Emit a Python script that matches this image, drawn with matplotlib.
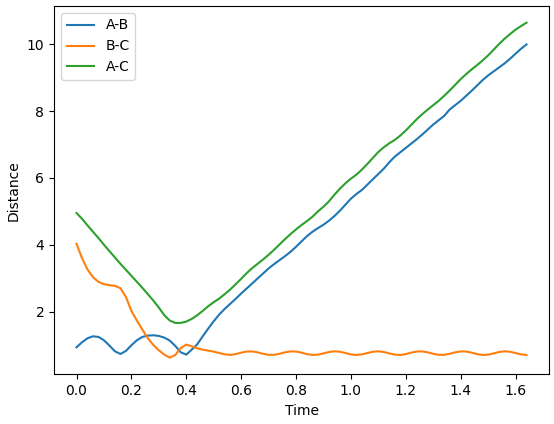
import matplotlib
matplotlib.use("Agg")
import matplotlib.pyplot as plt
from matplotlib.ticker import MultipleLocator

time = [round(0.02 * i, 2) for i in range(83)]

ab = [0.93, 1.08, 1.20, 1.26, 1.24, 1.14, 0.98, 0.81, 0.73, 0.82,
      0.99, 1.14, 1.24, 1.28, 1.29, 1.27, 1.22, 1.13, 0.97, 0.78,
      0.71, 0.86, 1.02, 1.26, 1.49, 1.71, 1.91, 2.08, 2.23, 2.38,
      2.54, 2.69, 2.84, 2.99, 3.14, 3.29, 3.42, 3.54, 3.66, 3.79,
      3.94, 4.10, 4.26, 4.39, 4.50, 4.60, 4.72, 4.86, 5.02, 5.20,
      5.38, 5.52, 5.64, 5.80, 5.96, 6.12, 6.28, 6.47, 6.64, 6.77,
      6.90, 7.03, 7.16, 7.30, 7.45, 7.60, 7.73, 7.86, 8.05, 8.18,
      8.31, 8.46, 8.61, 8.77, 8.93, 9.07, 9.19, 9.31, 9.43, 9.57,
      9.72, 9.87, 10.00]

bc = [4.03, 3.60, 3.26, 3.03, 2.89, 2.82, 2.79, 2.77, 2.70, 2.44,
      2.02, 1.73, 1.46, 1.20, 1.00, 0.84, 0.71, 0.62, 0.70, 0.91,
      1.01, 0.96, 0.90, 0.86, 0.83, 0.80, 0.76, 0.72, 0.701, 0.726,
      0.769, 0.803, 0.807, 0.779, 0.736, 0.704, 0.704, 0.736, 0.779, 0.807,
      0.803, 0.769, 0.726, 0.701, 0.710, 0.747, 0.789, 0.810, 0.797, 0.758,
      0.717, 0.700, 0.717, 0.758, 0.797, 0.810, 0.789, 0.747, 0.710, 0.701,
      0.726, 0.769, 0.803, 0.807, 0.779, 0.736, 0.704, 0.704, 0.736, 0.779,
      0.807, 0.803, 0.769, 0.726, 0.701, 0.710, 0.747, 0.789, 0.810, 0.797,
      0.758, 0.717, 0.700]

ac = [4.95, 4.78, 4.58, 4.39, 4.20, 4.00, 3.81, 3.62, 3.43, 3.25,
      3.07, 2.89, 2.71, 2.52, 2.33, 2.12, 1.89, 1.73, 1.66, 1.66,
      1.70, 1.78, 1.89, 2.02, 2.16, 2.28, 2.39, 2.52, 2.66, 2.82,
      2.98, 3.15, 3.30, 3.43, 3.56, 3.70, 3.85, 4.01, 4.17, 4.32,
      4.46, 4.59, 4.71, 4.84, 5.00, 5.14, 5.30, 5.50, 5.68, 5.84,
      5.98, 6.10, 6.25, 6.42, 6.60, 6.78, 6.92, 7.04, 7.14, 7.27,
      7.42, 7.59, 7.76, 7.91, 8.05, 8.18, 8.31, 8.46, 8.62, 8.79,
      8.96, 9.11, 9.25, 9.38, 9.52, 9.67, 9.84, 10.01, 10.17, 10.31,
      10.44, 10.55, 10.65]

labels = ["A-B", "B-C", "A-C"]

fig = plt.figure(figsize=(5.54, 4.24), dpi=100)
ax = fig.add_axes([0.0975, 0.117, 0.8935, 0.869])
ax.plot(time, ab, label=labels[0])
ax.plot(time, bc, label=labels[1])
ax.plot(time, ac, label=labels[2])
ax.xaxis.set_major_locator(MultipleLocator(0.2))
ax.set_xlabel("Time")
ax.set_ylabel("Distance")
ax.legend(loc="upper left")
fig.savefig("out.png", dpi=100)
